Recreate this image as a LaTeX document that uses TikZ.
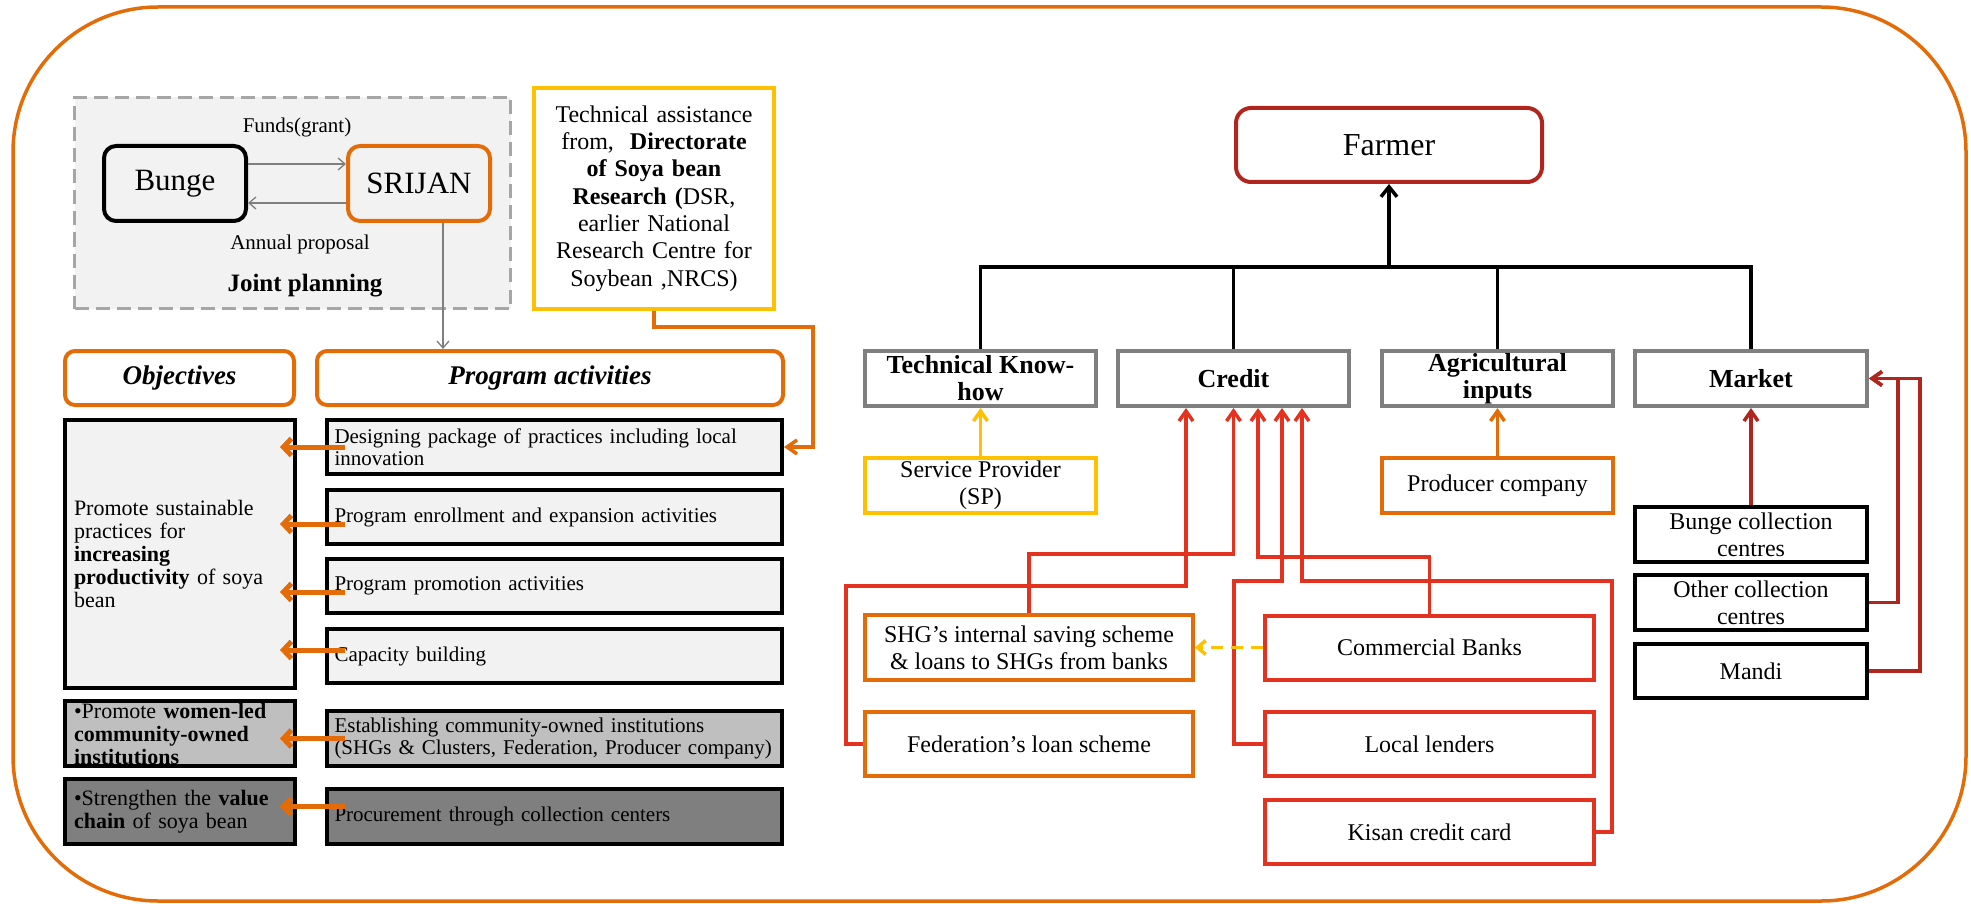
\documentclass[tikz,border=0pt]{standalone}
\usepackage{fontspec}
\setmainfont{Liberation Serif}
\usetikzlibrary{arrows.meta}
\definecolor{orng}{HTML}{E36C09}
\definecolor{yel}{HTML}{FFC000}
\definecolor{rd}{HTML}{E3321F}
\definecolor{drd}{HTML}{B0261E}
\definecolor{gry}{HTML}{7F7F7F}
\definecolor{lgfill}{HTML}{F2F2F2}
\definecolor{mgfill}{HTML}{BFBFBF}
\definecolor{dgfill}{HTML}{7F7F7F}
\definecolor{dshgray}{HTML}{A6A6A6}
\newcommand{\fs}[2]{\fontsize{#1}{#2}\selectfont}
\begin{document}
\begin{tikzpicture}[x=1pt,y=-1pt,
  base/.style={inner sep=0pt},
  rbox/.style={base,draw,rounded corners=12pt,line width=4pt,minimum width=142pt,minimum height=75pt,font=\fs{31}{34}},
  hdr/.style={base,draw=orng,rounded corners=10pt,line width=4pt,minimum height=54pt,font=\fs{27}{30}\bfseries\itshape},
  objbox/.style={base,draw=black,line width=4pt,minimum width=230pt,text width=212pt,align=left,font=\fs{22}{23}},
  actbox/.style={base,draw=black,line width=4pt,minimum width=455pt,text width=440pt,align=left,font=\fs{21}{22.5}},
  gbox/.style={base,draw=gry,line width=4pt,minimum width=231pt,minimum height=55pt,align=center,font=\fs{26}{27}\bfseries},
  cbox/.style={base,line width=4pt,minimum height=55pt,align=center,font=\fs{24}{27}},
  thinarr/.style={draw=gry,line width=1.3pt,-{Straight Barb[length=7pt,width=12pt]}},
  oarr/.style={draw=orng,line width=5pt,-{Straight Barb[length=8pt,width=17pt]}},
  barr/.style={draw=black,line width=3.5pt,-{Straight Barb[length=10pt,width=16pt]}},
  rarr/.style={draw=rd,line width=3.5pt,-{Straight Barb[length=10pt,width=14pt]}},
  yarr/.style={draw=yel,line width=3.5pt,-{Straight Barb[length=10pt,width=14pt]}},
  o2arr/.style={draw=orng,line width=3.5pt,-{Straight Barb[length=10pt,width=14pt]}},
  drarr/.style={draw=drd,line width=3.5pt,-{Straight Barb[length=10pt,width=14pt]}},
  bline/.style={draw=black,line width=3.5pt}]
\useasboundingbox (0,0) rectangle (1971,904);
% outer frame
\draw[orng,line width=3.5pt,rounded corners=145pt] (13,7) rectangle (1966,901);

% joint planning area
\node[base,draw=dshgray,fill=lgfill,dashed,dash pattern=on 14pt off 7pt,line width=3.5pt,minimum width=436pt,minimum height=211pt] (jp) at (292.5,203) {};
\node[rbox,draw=black] (bunge) at (175,183.5) {Bunge};
\node[rbox,draw=orng] (srijan) at (419,183.5) {SRIJAN};
\node[font=\fs{21}{23}] (funds) at (297,127) {Funds(grant)};
\node[font=\fs{21}{23}] (annual) at (300,244) {Annual proposal};
\node[font=\fs{25}{28}\bfseries] (jpl) at (305,286) {Joint planning};
\draw[thinarr] ([yshift=19.5pt]bunge.east) -- ([yshift=19.5pt]srijan.west);
\draw[thinarr] ([yshift=-19.5pt]srijan.west) -- ([yshift=-19.5pt]bunge.east);

% technical assistance
\node[base,draw=yel,line width=4pt,minimum width=240pt,minimum height=221pt,text width=236pt,align=center,font=\fs{24}{27.3}] (tech) at (654,198.5)
  {Technical assistance\\from,\ \ \textbf{Directorate}\\\textbf{of Soya bean}\\\textbf{Research (}DSR,\\earlier National\\Research Centre for\\Soybean ,NRCS)};

% headers
\node[hdr,minimum width=229pt] (objh) at (179.5,378) {Objectives};
\node[hdr,minimum width=466pt] (acth) at (550,378) {Program activities};
\draw[thinarr] ([xshift=24pt]srijan.south) -- ([xshift=24pt]srijan.south |- acth.north);

% objectives
\node[objbox,fill=lgfill,minimum height=268pt] (obj1) at (180,554)
  {Promote sustainable\\practices for\\\textbf{increasing}\\\textbf{productivity} of soya\\bean};
\node[objbox,fill=mgfill,minimum height=65pt] (obj2) at (180,733.5)
  {•Promote \textbf{women-led}\\\textbf{community-owned}\\\textbf{institutions}};
\node[objbox,fill=dgfill,minimum height=65pt] (obj3) at (180,811.5)
  {•Strengthen the \textbf{value}\\\textbf{chain} of soya bean};

% activities
\node[actbox,fill=lgfill,minimum height=54pt] (act1) at (554.5,447)
  {Designing package of practices including local\\innovation};
\node[actbox,fill=lgfill,minimum height=54pt] (act2) at (554.5,517)
  {Program enrollment and expansion activities};
\node[actbox,fill=lgfill,minimum height=54pt] (act3) at (554.5,585.5)
  {Program promotion activities};
\node[actbox,fill=lgfill,minimum height=54pt] (act4) at (554.5,656)
  {Capacity building};
\node[actbox,fill=mgfill,minimum height=55pt] (act5) at (554.5,738.5)
  {Establishing community-owned institutions\\(SHGs \& Clusters, Federation, Producer company)};
\node[actbox,fill=dgfill,minimum height=55pt] (act6) at (554.5,816.5)
  {Procurement through collection centers};

\draw[oarr] ([xshift=20pt]act1.west) -- ([xshift=-17pt]act1.west -| obj1.east);
\draw[oarr] ([xshift=20pt,yshift=-7pt]act2.west) -- ([xshift=-17pt,yshift=-7pt]act2.west -| obj1.east);
\draw[oarr] ([xshift=20pt,yshift=-6.5pt]act3.west) -- ([xshift=-17pt,yshift=-6.5pt]act3.west -| obj1.east);
\draw[oarr] ([xshift=20pt,yshift=6pt]act4.west) -- ([xshift=-17pt,yshift=6pt]act4.west -| obj1.east);
\draw[oarr] ([xshift=20pt]act5.west) -- ([xshift=-17pt]act5.west -| obj2.east);
\draw[oarr] ([xshift=20pt,yshift=10pt]act6.west) -- ([xshift=-17pt,yshift=10pt]act6.west -| obj3.east);

% tech assistance connector
\draw[o2arr] (tech.south) -- ++(0,16) -| ([xshift=29pt]act1.east) -- (act1.east);

% ---------------- right part ----------------
\node[base,draw=drd,line width=4pt,rounded corners=15pt,minimum width=306pt,minimum height=74pt,font=\fs{32}{34}] (farmer) at (1389,145) {Farmer};
\coordinate (bus) at (1389,267);

\node[gbox] (tk) at (980.5,378.5) {Technical Know-\\how};
\node[gbox] (credit) at (1233.5,378.5) {Credit};
\node[gbox] (agri) at (1497.5,378.5) {Agricultural\\inputs};
\node[gbox,minimum width=232pt] (market) at (1751,378.5) {Market};

\draw[bline] (tk.north) -- (tk.north |- bus) -- (market.north |- bus) -- (market.north);
\draw[bline] (credit.north) -- (credit.north |- bus);
\draw[bline] (agri.north) -- (agri.north |- bus);
\draw[barr] (bus) -- (farmer.south);

\node[cbox,draw=yel,minimum width=231pt] (sp) at (980.5,485.5) {Service Provider\\(SP)};
\node[cbox,draw=orng,minimum width=231pt] (prod) at (1497.5,485.5) {Producer company};
\draw[yarr] (sp.north) -- (tk.south);
\draw[o2arr] (prod.north) -- (agri.south);

\node[cbox,draw=orng,minimum width=328pt,minimum height=65pt] (shg) at (1029,647.5) {SHG’s internal saving scheme\\\& loans to SHGs from banks};
\node[cbox,draw=orng,minimum width=328pt,minimum height=64pt] (fed) at (1029,744) {Federation’s loan scheme};
\node[cbox,draw=rd,minimum width=329pt,minimum height=64pt] (cb) at (1429.5,647.5) {Commercial Banks};
\node[cbox,draw=rd,minimum width=329pt,minimum height=64pt] (ll) at (1429.5,744) {Local lenders};
\node[cbox,draw=rd,minimum width=329pt,minimum height=64pt] (kcc) at (1429.5,832) {Kisan credit card};

\draw[rarr] (fed.west) -- ++(-17,0) |- ([xshift=-47.5pt,yshift=-178pt]credit.south) -- ([xshift=-47.5pt]credit.south);
\draw[rarr] (shg.north) |- ([yshift=-146pt]credit.south) -- (credit.south);
\draw[rarr] (cb.north) |- ([xshift=24.5pt,yshift=-149pt]credit.south) -- ([xshift=24.5pt]credit.south);
\draw[rarr] (ll.west) -- ++(-29,0) |- ([xshift=48.5pt,yshift=-173pt]credit.south) -- ([xshift=48.5pt]credit.south);
\draw[rarr] (kcc.east) -- ++(16,0) |- ([xshift=68.5pt,yshift=-173pt]credit.south) -- ([xshift=68.5pt]credit.south);
\draw[draw=yel,line width=3.5pt,dash pattern=on 12pt off 8pt,-{Straight Barb[length=8pt,width=14pt]}] (cb.west) -- (shg.east);

\node[cbox,draw=black,minimum width=232pt] (bcc) at (1751,534.5) {Bunge collection\\centres};
\node[cbox,draw=black,minimum width=232pt] (occ) at (1751,602.5) {Other collection\\centres};
\node[cbox,draw=black,minimum width=232pt,minimum height=54pt] (mandi) at (1751,671) {Mandi};
\draw[drarr] (bcc.north) -- (market.south);
\draw[drarr] (occ.east) -- ++(29,0) |- (market.east);
\draw[drarr] (mandi.east) -- ++(51,0) |- (market.east);
\end{tikzpicture}
\end{document}
